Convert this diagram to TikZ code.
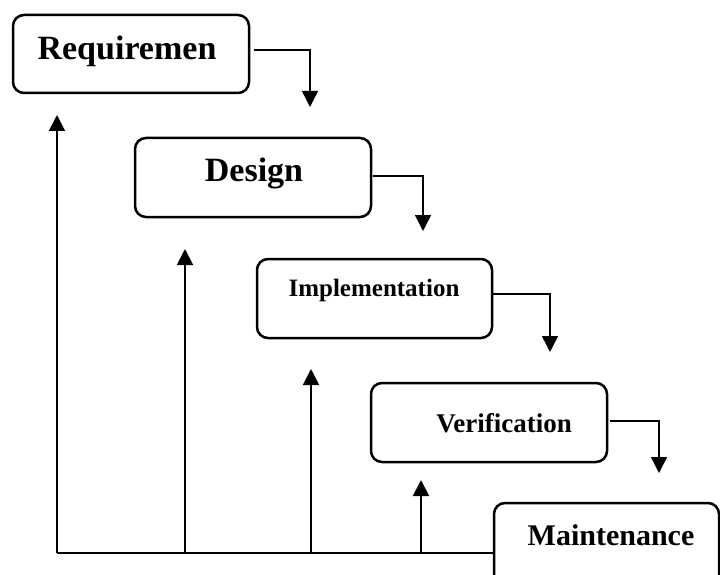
\documentclass[tikz,border=0pt]{standalone}
\usepackage{fontspec}
\setmainfont{Liberation Serif}
\usetikzlibrary{arrows.meta}
\begin{document}
\begin{tikzpicture}[x=1pt,y=-1pt,
  stagebox/.style={draw,line width=2.5pt,rounded corners=11pt},
  stagetext/.style={anchor=base,inner sep=0pt},
  flow/.style={line width=1.4pt,-{Triangle[width=16pt,length=16pt]}},
  back/.style={line width=1.9pt,-{Triangle[width=16pt,length=16pt]}}]
\useasboundingbox (0,0) rectangle (720,575);
\clip (0,0) rectangle (720,575);
% stage boxes
\draw[stagebox] (13,15) rectangle (249,93);
\draw[stagebox] (135,138) rectangle (371,217);
\draw[stagebox] (257,259) rectangle (492,338);
\draw[stagebox] (371,383) rectangle (607,462);
\draw[stagebox] (494,503) rectangle (719,600);
% stage labels
\node[stagetext,font=\bfseries\fontsize{34}{38}\selectfont] (req) at (127,60) {Requiremen};
\node[stagetext,font=\bfseries\fontsize{34}{38}\selectfont] (des) at (254,182) {Design};
\node[stagetext,font=\bfseries\fontsize{25}{30}\selectfont] (imp) at (374,296) {Implementation};
\node[stagetext,font=\bfseries\fontsize{27}{32}\selectfont] (ver) at (504,432) {Verification};
\node[stagetext,font=\bfseries\fontsize{30}{34}\selectfont] (mai) at (611,545) {Maintenance};
% cascade connectors
\coordinate (r1) at (254,50);  \coordinate (r2) at (310,107);
\coordinate (d1) at (373,176); \coordinate (d2) at (423,231);
\coordinate (i1) at (493,294); \coordinate (i2) at (550,352);
\coordinate (v1) at (610,421); \coordinate (v2) at (659,473);
\draw[flow] (r1) -| (r2);
\draw[flow] (d1) -| (d2);
\draw[flow] (i1) -| (i2);
\draw[flow] (v1) -| (v2);
% feedback lines
\coordinate (m0) at (494,553);
\coordinate (b0) at (57,553);   \coordinate (t0) at (57,115);
\coordinate (b1) at (185,553);  \coordinate (t1) at (185,249);
\coordinate (b2) at (311,553);  \coordinate (t2) at (311,369);
\coordinate (b3) at (421,553);  \coordinate (t3) at (421,480);
\draw[line width=1.5pt] (m0) -- (b0);
\draw[back] (b0) -- (t0);
\draw[back] (b1) -- (t1);
\draw[back] (b2) -- (t2);
\draw[back] (b3) -- (t3);
\end{tikzpicture}
\end{document}
